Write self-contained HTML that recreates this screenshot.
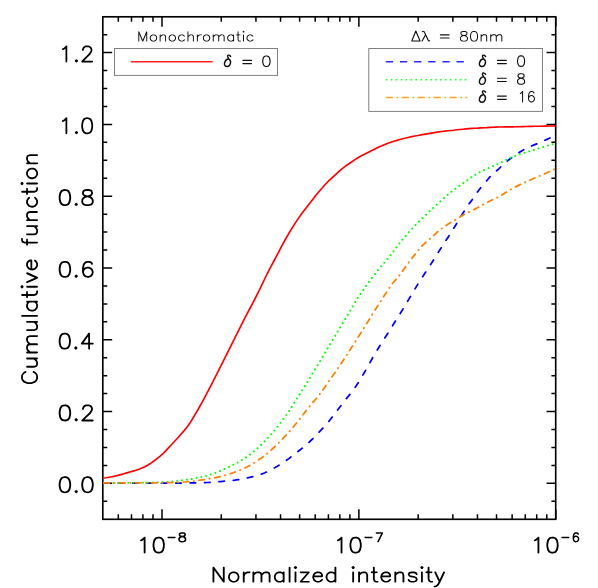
<!DOCTYPE html>
<html><head><meta charset="utf-8"><title>Cumulative function</title>
<style>html,body{margin:0;padding:0;background:#fff;font-family:"Liberation Sans",sans-serif;}svg{display:block}</style>
</head><body>
<svg width="598" height="588" viewBox="0 0 598 588">
<rect x="0" y="0" width="598" height="588" fill="#fff"/>
<path d="M162.00 519.20V509.20M162.00 16.75V26.75M358.90 519.20V509.20M358.90 16.75V26.75M555.80 519.20V509.20M555.80 16.75V26.75M118.32 519.20V514.20M118.32 16.75V21.75M131.50 519.20V514.20M131.50 16.75V21.75M142.92 519.20V514.20M142.92 16.75V21.75M152.99 519.20V514.20M152.99 16.75V21.75M221.27 519.20V514.20M221.27 16.75V21.75M255.95 519.20V514.20M255.95 16.75V21.75M280.55 519.20V514.20M280.55 16.75V21.75M299.63 519.20V514.20M299.63 16.75V21.75M315.22 519.20V514.20M315.22 16.75V21.75M328.40 519.20V514.20M328.40 16.75V21.75M339.82 519.20V514.20M339.82 16.75V21.75M349.89 519.20V514.20M349.89 16.75V21.75M418.17 519.20V514.20M418.17 16.75V21.75M452.85 519.20V514.20M452.85 16.75V21.75M477.45 519.20V514.20M477.45 16.75V21.75M496.53 519.20V514.20M496.53 16.75V21.75M512.12 519.20V514.20M512.12 16.75V21.75M525.30 519.20V514.20M525.30 16.75V21.75M536.72 519.20V514.20M536.72 16.75V21.75M546.79 519.20V514.20M546.79 16.75V21.75M102.85 501.30H107.25M555.80 501.30H551.40M102.85 483.35H112.15M555.80 483.35H546.50M102.85 465.40H107.25M555.80 465.40H551.40M102.85 447.46H107.25M555.80 447.46H551.40M102.85 429.51H107.25M555.80 429.51H551.40M102.85 411.56H112.15M555.80 411.56H546.50M102.85 393.61H107.25M555.80 393.61H551.40M102.85 375.67H107.25M555.80 375.67H551.40M102.85 357.72H107.25M555.80 357.72H551.40M102.85 339.77H112.15M555.80 339.77H546.50M102.85 321.82H107.25M555.80 321.82H551.40M102.85 303.88H107.25M555.80 303.88H551.40M102.85 285.93H107.25M555.80 285.93H551.40M102.85 267.98H112.15M555.80 267.98H546.50M102.85 250.03H107.25M555.80 250.03H551.40M102.85 232.09H107.25M555.80 232.09H551.40M102.85 214.14H107.25M555.80 214.14H551.40M102.85 196.19H112.15M555.80 196.19H546.50M102.85 178.24H107.25M555.80 178.24H551.40M102.85 160.30H107.25M555.80 160.30H551.40M102.85 142.35H107.25M555.80 142.35H551.40M102.85 124.40H112.15M555.80 124.40H546.50M102.85 106.45H107.25M555.80 106.45H551.40M102.85 88.50H107.25M555.80 88.50H551.40M102.85 70.56H107.25M555.80 70.56H551.40M102.85 52.61H112.15M555.80 52.61H546.50M102.85 34.66H107.25M555.80 34.66H551.40" stroke="#000" stroke-width="1.5" fill="none"/>
<rect x="102.8" y="16.8" width="452.9" height="502.5" fill="none" stroke="#000" stroke-width="1.65"/>
<g fill="none" stroke-linejoin="round">
<path d="M102.9 478.2L105.9 477.8L108.9 477.3L111.9 476.7L114.9 476.1L117.9 475.4L120.9 474.6L123.9 473.8L126.9 472.9L129.9 472.0L132.9 471.1L135.9 470.2L138.9 469.2L141.9 468.1L144.9 466.7L147.9 465.0L150.9 463.2L153.9 461.0L156.9 458.7L159.9 456.3L162.9 453.7L165.9 450.6L168.9 447.4L171.9 444.3L174.9 441.0L177.9 437.7L180.9 434.3L183.9 430.9L186.9 427.3L189.9 423.1L192.9 418.2L195.9 413.1L198.9 408.0L201.9 402.6L204.9 397.1L207.9 391.3L210.9 385.6L213.9 379.7L216.9 373.8L219.9 367.9L222.9 361.9L225.9 355.9L228.9 349.9L231.9 343.9L234.9 337.9L237.9 331.8L240.9 325.8L243.9 319.9L246.9 314.1L249.9 308.5L252.9 302.8L255.9 297.0L258.9 291.0L261.9 284.8L264.9 278.5L267.9 272.4L270.9 266.7L273.9 261.0L276.9 255.3L279.9 249.6L282.9 243.9L285.9 238.5L288.9 233.3L291.9 228.4L294.9 223.6L297.9 219.1L300.9 214.8L303.9 210.8L306.9 206.9L309.9 203.1L312.9 199.2L315.9 195.3L318.9 191.7L321.9 188.2L324.9 184.8L327.9 181.7L330.9 178.9L333.9 176.1L336.9 173.4L339.9 170.7L342.9 168.1L345.9 165.8L348.9 163.7L351.9 161.7L354.9 159.6L357.9 157.7L360.9 156.1L363.9 154.5L366.9 153.0L369.9 151.4L372.9 149.9L375.9 148.4L378.9 147.0L381.9 145.7L384.9 144.4L387.9 143.3L390.9 142.3L393.9 141.3L396.9 140.4L399.9 139.5L402.9 138.7L405.9 138.0L408.9 137.3L411.9 136.6L414.9 136.0L417.9 135.5L420.9 134.9L423.9 134.4L426.9 133.9L429.9 133.4L432.9 132.9L435.9 132.4L438.9 131.9L441.9 131.5L444.9 131.1L447.9 130.8L450.9 130.5L453.9 130.2L456.9 129.8L459.9 129.5L462.9 129.2L465.9 128.9L468.9 128.6L471.9 128.4L474.9 128.2L477.9 128.1L480.9 127.9L483.9 127.7L486.9 127.6L489.9 127.4L492.9 127.3L495.9 127.1L498.9 127.0L501.9 127.0L504.9 126.9L507.9 126.9L510.9 126.8L513.9 126.8L516.9 126.7L519.9 126.7L522.9 126.6L525.9 126.5L528.9 126.4L531.9 126.4L534.9 126.3L537.9 126.2L540.9 126.2L543.9 126.1L546.9 126.1L549.9 126.0L552.9 126.0L555.8 125.9" stroke="#ff0000" stroke-width="1.65"/>
<path d="M102.9 483.0L105.9 483.0L108.9 483.0L111.9 483.0L114.9 483.0L117.9 483.0L120.9 483.1L123.9 483.1L126.9 483.1L129.9 483.1L132.9 483.1L135.9 483.1L138.9 483.1L141.9 483.1L144.9 483.1L147.9 483.1L150.9 483.1L153.9 483.1L156.9 483.1L159.9 483.1L162.9 483.1L165.9 483.1L168.9 483.1L171.9 483.1L174.9 483.1L177.9 483.1L180.9 483.1L183.9 483.1L186.9 483.0L189.9 483.0L192.9 482.9L195.9 482.9L198.9 482.8L201.9 482.8L204.9 482.7L207.9 482.5L210.9 482.3L213.9 482.1L216.9 481.8L219.9 481.6L222.9 481.3L225.9 481.1L228.9 480.8L231.9 480.5L234.9 480.2L237.9 479.7L240.9 479.2L243.9 478.7L246.9 478.1L249.9 477.4L252.9 476.7L255.9 475.9L258.9 475.0L261.9 474.0L264.9 472.8L267.9 471.3L270.9 469.8L273.9 468.1L276.9 466.4L279.9 464.6L282.9 462.7L285.9 460.7L288.9 458.6L291.9 456.3L294.9 454.0L297.9 451.6L300.9 449.3L303.9 446.9L306.9 444.3L309.9 441.5L312.9 438.6L315.9 435.5L318.9 432.4L321.9 429.2L324.9 426.0L327.9 422.5L330.9 418.8L333.9 414.9L336.9 410.9L339.9 407.0L342.9 403.1L345.9 399.2L348.9 395.6L351.9 392.0L354.9 387.9L357.9 383.3L360.9 378.4L363.9 373.3L366.9 368.0L369.9 362.7L372.9 357.4L375.9 352.3L378.9 347.2L381.9 342.4L384.9 337.8L387.9 333.3L390.9 328.5L393.9 323.5L396.9 318.7L399.9 314.0L402.9 309.1L405.9 304.1L408.9 299.1L411.9 294.0L414.9 289.0L417.9 284.1L420.9 279.3L423.9 274.8L426.9 270.3L429.9 265.8L432.9 261.0L435.9 256.1L438.9 251.4L441.9 246.8L444.9 242.1L447.9 237.5L450.9 232.8L453.9 228.0L456.9 223.2L459.9 218.3L462.9 213.3L465.9 208.4L468.9 204.1L471.9 200.1L474.9 195.9L477.9 191.4L480.9 187.4L483.9 184.1L486.9 180.5L489.9 176.9L492.9 173.9L495.9 171.3L498.9 168.8L501.9 165.7L504.9 163.0L507.9 160.5L510.9 158.3L513.9 156.2L516.9 154.1L519.9 152.0L522.9 150.2L525.9 148.5L528.9 147.1L531.9 145.8L534.9 144.6L537.9 143.4L540.9 142.0L543.9 140.7L546.9 139.4L549.9 138.0L552.9 136.6L555.8 135.3" stroke="#0000ff" stroke-width="1.75" stroke-linecap="round" stroke-dasharray="5.5 8.9" stroke-dashoffset="-0.87"/>
<path d="M102.9 482.9L105.9 482.9L108.9 482.9L111.9 482.9L114.9 482.9L117.9 482.9L120.9 482.9L123.9 482.8L126.9 482.8L129.9 482.8L132.9 482.8L135.9 482.7L138.9 482.7L141.9 482.7L144.9 482.7L147.9 482.6L150.9 482.6L153.9 482.5L156.9 482.4L159.9 482.3L162.9 482.2L165.9 482.0L168.9 481.9L171.9 481.6L174.9 481.3L177.9 480.9L180.9 480.5L183.9 480.1L186.9 479.7L189.9 479.3L192.9 478.8L195.9 478.2L198.9 477.6L201.9 477.0L204.9 476.3L207.9 475.5L210.9 474.5L213.9 473.5L216.9 472.4L219.9 471.1L222.9 469.7L225.9 468.3L228.9 466.9L231.9 465.5L234.9 464.0L237.9 462.4L240.9 460.6L243.9 458.7L246.9 456.7L249.9 454.5L252.9 452.2L255.9 449.6L258.9 446.9L261.9 444.0L264.9 440.9L267.9 437.9L270.9 434.7L273.9 431.3L276.9 427.4L279.9 423.5L282.9 419.7L285.9 415.7L288.9 411.3L291.9 406.6L294.9 401.7L297.9 396.9L300.9 392.3L303.9 387.7L306.9 383.0L309.9 377.9L312.9 372.8L315.9 367.9L318.9 363.1L321.9 358.2L324.9 353.1L327.9 347.9L330.9 342.8L333.9 337.8L336.9 332.8L339.9 327.8L342.9 322.8L345.9 317.8L348.9 312.8L351.9 307.8L354.9 302.2L357.9 297.3L360.9 293.3L363.9 289.1L366.9 284.7L369.9 280.6L372.9 276.6L375.9 272.8L378.9 269.1L381.9 265.5L384.9 262.0L387.9 258.4L390.9 254.7L393.9 250.8L396.9 246.7L399.9 242.8L402.9 239.1L405.9 235.6L408.9 232.2L411.9 228.9L414.9 225.7L417.9 222.6L420.9 219.6L423.9 216.6L426.9 213.8L429.9 210.9L432.9 208.2L435.9 205.4L438.9 202.7L441.9 200.0L444.9 197.3L447.9 194.7L450.9 192.2L453.9 189.8L456.9 187.5L459.9 185.5L462.9 183.5L465.9 181.3L468.9 179.0L471.9 176.9L474.9 175.0L477.9 173.2L480.9 171.6L483.9 170.2L486.9 168.9L489.9 167.5L492.9 166.2L495.9 164.9L498.9 163.6L501.9 162.1L504.9 160.6L507.9 159.1L510.9 157.6L513.9 156.3L516.9 155.2L519.9 154.2L522.9 153.3L525.9 152.4L528.9 151.5L531.9 150.5L534.9 149.6L537.9 148.6L540.9 147.7L543.9 146.8L546.9 145.9L549.9 145.0L552.9 144.1L555.8 143.3" stroke="#00ff00" stroke-width="2.0" stroke-linecap="round" stroke-dasharray="0.01 4.89" stroke-dashoffset="-0.9"/>
<path d="M102.9 482.9L105.9 482.9L108.9 482.9L111.9 482.9L114.9 482.9L117.9 482.9L120.9 482.9L123.9 482.9L126.9 482.9L129.9 482.9L132.9 482.9L135.9 482.8L138.9 482.8L141.9 482.8L144.9 482.8L147.9 482.8L150.9 482.8L153.9 482.8L156.9 482.8L159.9 482.8L162.9 482.8L165.9 482.7L168.9 482.7L171.9 482.7L174.9 482.6L177.9 482.4L180.9 482.2L183.9 482.0L186.9 481.8L189.9 481.5L192.9 481.2L195.9 480.8L198.9 480.3L201.9 479.9L204.9 479.5L207.9 479.0L210.9 478.5L213.9 478.0L216.9 477.3L219.9 476.6L222.9 475.9L225.9 475.0L228.9 474.2L231.9 473.2L234.9 472.1L237.9 471.0L240.9 469.8L243.9 468.4L246.9 467.0L249.9 465.4L252.9 463.7L255.9 461.8L258.9 459.6L261.9 457.7L264.9 455.6L267.9 453.0L270.9 450.3L273.9 447.5L276.9 444.7L279.9 441.7L282.9 438.5L285.9 435.3L288.9 432.0L291.9 428.6L294.9 425.0L297.9 421.3L300.9 417.4L303.9 413.6L306.9 409.8L309.9 406.1L312.9 402.5L315.9 399.0L318.9 395.4L321.9 391.4L324.9 387.0L327.9 382.6L330.9 378.3L333.9 374.1L336.9 369.9L339.9 365.5L342.9 361.0L345.9 356.4L348.9 351.7L351.9 347.0L354.9 342.3L357.9 337.6L360.9 332.8L363.9 328.0L366.9 323.2L369.9 318.3L372.9 313.5L375.9 308.7L378.9 304.0L381.9 299.3L384.9 294.7L387.9 290.2L390.9 285.8L393.9 281.8L396.9 278.3L399.9 274.8L402.9 270.5L405.9 266.2L408.9 262.2L411.9 258.3L414.9 254.6L417.9 250.8L420.9 247.2L423.9 244.1L426.9 241.4L429.9 238.8L432.9 236.1L435.9 233.3L438.9 230.7L441.9 228.4L444.9 226.3L447.9 224.3L450.9 222.4L453.9 220.6L456.9 218.9L459.9 217.0L462.9 215.2L465.9 213.5L468.9 212.0L471.9 210.6L474.9 209.1L477.9 207.5L480.9 205.9L483.9 204.2L486.9 202.6L489.9 201.0L492.9 199.5L495.9 198.2L498.9 196.8L501.9 195.1L504.9 193.1L507.9 191.3L510.9 189.5L513.9 187.8L516.9 186.1L519.9 184.6L522.9 183.2L525.9 181.9L528.9 180.6L531.9 179.3L534.9 178.0L537.9 176.7L540.9 175.4L543.9 174.1L546.9 172.8L549.9 171.4L552.9 170.0L555.8 168.5" stroke="#ff8000" stroke-width="1.75" stroke-linecap="round" stroke-dasharray="5.5 4.95 0.5 4.95" stroke-dashoffset="-0.87"/>
</g>
<rect x="114.5" y="48.5" width="163" height="26.9" fill="none" stroke="#808080" stroke-width="1"/>
<rect x="368.8" y="48.5" width="173.65" height="62.9" fill="none" stroke="#808080" stroke-width="1"/>
<path d="M130.8 61.7H212.6" stroke="#ff2020" stroke-width="1.5" fill="none"/>
<path d="M385.8 61.8H464.2" stroke="#2a2aff" stroke-width="1.6" fill="none" stroke-dasharray="7.3 6.85"/>
<path d="M385.8 79.8H467.2" stroke="#22ff22" stroke-width="1.6" fill="none" stroke-dasharray="1.6 3.33"/>
<path d="M385.8 97.6H467.2" stroke="#ffa51e" stroke-width="1.5" fill="none" stroke-dasharray="7.3 3.5 1.6 3.5"/>
<path d="M76.20 489.95L75.64 490.13L74.70 491.04L74.51 491.58L74.70 492.12L75.64 493.02L76.20 493.20L76.77 493.02L77.71 492.12L77.90 491.58L77.71 491.04L76.77 490.13ZM86.74 476.25L83.92 477.15L83.54 477.51L82.23 479.41L81.94 480.22L81.28 483.37L81.38 483.55L81.28 483.64L81.28 485.81L81.38 485.90L81.28 486.08L82.04 489.59L82.23 490.04L83.54 491.94L84.30 492.48L86.27 493.11L88.25 493.20L91.07 492.30L91.45 491.94L92.76 490.04L93.05 489.23L93.71 486.08L93.61 485.90L93.71 485.81L93.71 483.64L93.61 483.55L93.71 483.37L92.95 479.86L92.76 479.41L91.45 477.51L90.69 476.97L88.72 476.34ZM86.74 478.05L88.25 478.05L89.94 478.68L91.17 480.49L91.82 483.55L91.82 485.90L91.17 488.96L89.85 490.86L88.25 491.40L86.74 491.40L85.05 490.77L83.83 488.96L83.17 485.90L83.17 483.55L83.83 480.49L85.14 478.59ZM64.16 476.25L61.33 477.15L60.96 477.51L59.64 479.41L59.36 480.22L58.70 483.37L58.79 483.55L58.70 483.64L58.70 485.81L58.79 485.90L58.70 486.08L59.45 489.59L59.64 490.04L60.96 491.94L61.71 492.48L63.69 493.11L65.66 493.20L68.49 492.30L68.86 491.94L70.18 490.04L70.46 489.23L71.12 486.08L71.03 485.90L71.12 485.81L71.12 483.64L71.03 483.55L71.12 483.37L70.37 479.86L70.18 479.41L68.86 477.51L68.11 476.97L66.13 476.34ZM64.16 478.05L65.66 478.05L67.36 478.68L68.58 480.49L69.24 483.55L69.24 485.90L68.58 488.96L67.26 490.86L65.66 491.40L64.16 491.40L62.46 490.77L61.24 488.96L60.58 485.90L60.58 483.55L61.24 480.49L62.56 478.59ZM76.20 418.16L75.64 418.34L74.70 419.25L74.51 419.79L74.70 420.33L75.64 421.23L76.20 421.41L76.77 421.23L77.71 420.33L77.90 419.79L77.71 419.25L76.77 418.34ZM85.61 404.55L83.92 405.36L82.98 406.26L82.04 408.25L82.04 408.97L82.41 409.69L82.98 409.87L83.54 409.69L83.83 409.33L83.92 408.34L84.39 407.44L85.14 406.71L86.08 406.26L88.91 406.26L89.85 406.71L90.60 407.44L91.07 408.34L91.07 409.60L90.60 410.50L89.00 412.75L81.47 419.97L81.28 420.51L81.38 420.87L81.66 421.23L82.23 421.41L92.76 421.41L93.14 421.32L93.52 421.05L93.71 420.51L93.52 419.97L92.76 419.61L84.67 419.61L84.58 419.52L90.69 413.66L92.01 411.76L92.95 409.69L92.86 407.89L92.01 406.26L91.07 405.36L89.00 404.46ZM64.16 404.46L61.33 405.36L60.96 405.72L59.64 407.62L59.36 408.43L58.70 411.58L58.79 411.76L58.70 411.85L58.70 414.02L58.79 414.11L58.70 414.29L59.45 417.80L59.64 418.25L60.96 420.15L61.71 420.69L63.69 421.32L65.66 421.41L68.49 420.51L68.86 420.15L70.18 418.25L70.46 417.44L71.12 414.29L71.03 414.11L71.12 414.02L71.12 411.85L71.03 411.76L71.12 411.58L70.37 408.07L70.18 407.62L68.86 405.72L68.11 405.18L66.13 404.55ZM64.16 406.26L65.66 406.26L67.36 406.89L68.58 408.70L69.24 411.76L69.24 414.11L68.58 417.17L67.26 419.07L65.66 419.61L64.16 419.61L62.46 418.98L61.24 417.17L60.58 414.11L60.58 411.76L61.24 408.70L62.56 406.80ZM75.84 346.37L75.28 346.55L74.36 347.46L74.18 348.00L74.36 348.54L75.28 349.44L75.84 349.62L76.39 349.44L77.31 348.54L77.49 348.00L77.31 347.46L76.39 346.55ZM89.10 332.67L88.55 332.85L88.18 333.21L81.27 342.68L80.81 343.67L80.99 344.21L81.73 344.57L88.09 344.57L88.18 344.66L88.18 348.72L88.36 349.26L89.10 349.62L89.65 349.44L90.02 348.72L90.02 344.66L90.11 344.57L93.16 344.48L93.52 344.21L93.71 343.67L93.52 343.13L93.16 342.86L90.11 342.77L90.02 342.68L90.02 333.57L89.84 333.03ZM88.09 336.55L88.18 336.64L88.18 342.68L88.09 342.77L83.67 342.77L83.57 342.68ZM64.04 332.67L61.28 333.57L60.91 333.93L59.62 335.83L59.34 336.64L58.70 339.79L58.79 339.97L58.70 340.06L58.70 342.23L58.79 342.32L58.70 342.50L59.44 346.01L59.62 346.46L60.91 348.36L61.65 348.90L63.58 349.53L65.52 349.62L68.28 348.72L68.65 348.36L69.94 346.46L70.22 345.65L70.86 342.50L70.77 342.32L70.86 342.23L70.86 340.06L70.77 339.97L70.86 339.79L70.12 336.28L69.94 335.83L68.65 333.93L67.91 333.39L65.98 332.76ZM64.04 334.47L65.52 334.47L67.18 335.10L68.37 336.91L69.02 339.97L69.02 342.32L68.37 345.38L67.08 347.28L65.52 347.82L64.04 347.82L62.39 347.19L61.19 345.38L60.54 342.32L60.54 339.97L61.19 336.91L62.48 335.01ZM76.20 274.58L75.64 274.76L74.70 275.67L74.51 276.21L74.70 276.75L75.64 277.65L76.20 277.83L76.77 277.65L77.71 276.75L77.90 276.21L77.71 275.67L76.77 274.76ZM89.00 260.88L87.02 260.97L85.05 261.60L84.30 262.14L82.98 264.04L82.79 264.49L82.04 268.00L82.13 268.18L82.04 268.27L82.04 271.88L82.13 271.97L82.04 272.06L82.98 275.31L84.67 276.93L87.50 277.83L88.72 277.74L91.07 276.93L92.76 275.31L93.71 272.60L93.61 271.43L92.76 269.17L91.07 267.55L88.72 266.74L87.50 266.65L84.67 267.55L84.11 268.09L84.01 268.00L84.58 265.12L85.80 263.31L86.08 263.13L87.50 262.68L89.00 262.68L90.60 263.22L91.45 264.67L92.01 264.85L92.76 264.49L92.95 263.95L92.86 263.58L92.01 261.96L91.45 261.60ZM87.50 268.45L88.25 268.45L89.94 268.99L91.26 270.26L91.82 271.88L91.82 272.60L91.26 274.22L89.94 275.49L88.25 276.03L87.50 276.03L85.80 275.49L84.58 274.31L83.92 271.97L84.48 270.26L85.80 268.99ZM64.16 260.88L61.33 261.78L60.96 262.14L59.64 264.04L59.36 264.85L58.70 268.00L58.79 268.18L58.70 268.27L58.70 270.44L58.79 270.53L58.70 270.71L59.45 274.22L59.64 274.67L60.96 276.57L61.71 277.11L63.69 277.74L65.66 277.83L68.49 276.93L68.86 276.57L70.18 274.67L70.46 273.86L71.12 270.71L71.03 270.53L71.12 270.44L71.12 268.27L71.03 268.18L71.12 268.00L70.37 264.49L70.18 264.04L68.86 262.14L68.11 261.60L66.13 260.97ZM64.16 262.68L65.66 262.68L67.36 263.31L68.58 265.12L69.24 268.18L69.24 270.53L68.58 273.59L67.26 275.49L65.66 276.03L64.16 276.03L62.46 275.40L61.24 273.59L60.58 270.53L60.58 268.18L61.24 265.12L62.56 263.22ZM76.20 202.79L75.64 202.97L74.70 203.88L74.51 204.42L74.70 204.96L75.64 205.86L76.20 206.04L76.77 205.86L77.71 204.96L77.90 204.42L77.71 203.88L76.77 202.97ZM85.99 189.09L83.17 189.99L82.13 191.79L82.04 192.16L82.13 193.96L82.98 195.58L84.30 196.30L83.92 196.48L82.23 198.11L81.38 199.73L81.28 202.25L82.23 204.24L83.17 205.14L85.99 206.04L89.00 206.04L91.82 205.14L92.76 204.24L93.61 202.61L93.71 202.25L93.61 199.73L92.76 198.11L91.07 196.48L90.69 196.30L92.01 195.58L92.86 193.96L92.95 192.16L92.01 190.17L91.45 189.81L89.00 189.09ZM83.64 199.28L85.05 197.93L87.40 197.20L89.94 197.93L91.35 199.28L91.82 200.18L91.82 202.16L91.35 203.06L90.69 203.70L89.00 204.24L85.99 204.24L84.30 203.70L83.64 203.06L83.17 202.16L83.17 200.18ZM83.92 192.25L84.39 191.43L85.99 190.89L89.00 190.89L90.69 191.52L91.07 192.25L91.07 193.51L90.69 194.23L90.41 194.50L89.47 194.95L87.40 195.40L85.52 194.95L84.58 194.50L84.30 194.23L83.92 193.51ZM64.16 189.09L61.33 189.99L60.96 190.35L59.64 192.25L59.36 193.06L58.70 196.21L58.79 196.39L58.70 196.48L58.70 198.65L58.79 198.74L58.70 198.92L59.45 202.43L59.64 202.88L60.96 204.78L61.71 205.32L63.69 205.95L65.66 206.04L68.49 205.14L68.86 204.78L70.18 202.88L70.46 202.07L71.12 198.92L71.03 198.74L71.12 198.65L71.12 196.48L71.03 196.39L71.12 196.21L70.37 192.70L70.18 192.25L68.86 190.35L68.11 189.81L66.13 189.18ZM64.16 190.89L65.66 190.89L67.36 191.52L68.58 193.33L69.24 196.39L69.24 198.74L68.58 201.80L67.26 203.70L65.66 204.24L64.16 204.24L62.46 203.61L61.24 201.80L60.58 198.74L60.58 196.39L61.24 193.33L62.56 191.43ZM76.43 131.00L75.89 131.18L74.99 132.09L74.81 132.63L74.99 133.17L75.89 134.07L76.43 134.25L76.97 134.07L77.86 133.17L78.04 132.63L77.86 132.09L76.97 131.18ZM86.47 117.30L83.78 118.20L83.42 118.56L82.17 120.46L81.90 121.27L81.27 124.42L81.36 124.60L81.27 124.69L81.27 126.86L81.36 126.95L81.27 127.13L81.99 130.64L82.17 131.09L83.42 132.99L84.14 133.53L86.03 134.16L87.91 134.25L90.60 133.35L90.96 132.99L92.21 131.09L92.48 130.28L93.11 127.13L93.02 126.95L93.11 126.86L93.11 124.69L93.02 124.60L93.11 124.42L92.39 120.91L92.21 120.46L90.96 118.56L90.24 118.02L88.36 117.39ZM86.47 119.10L87.91 119.10L89.52 119.73L90.69 121.54L91.32 124.60L91.32 126.95L90.69 130.01L89.43 131.91L87.91 132.45L86.47 132.45L84.86 131.82L83.69 130.01L83.07 126.95L83.07 124.60L83.69 121.54L84.95 119.64ZM66.38 117.30L65.85 117.48L63.60 119.73L62.26 120.37L61.90 121.09L62.08 121.63L62.80 121.99L64.77 121.09L65.40 120.46L65.49 120.55L65.49 133.35L65.67 133.89L66.38 134.25L66.92 134.07L67.28 133.35L67.28 118.20L67.10 117.66ZM76.43 59.21L75.89 59.39L74.99 60.30L74.81 60.84L74.99 61.38L75.89 62.28L76.43 62.46L76.97 62.28L77.86 61.38L78.04 60.84L77.86 60.30L76.97 59.39ZM85.40 45.60L83.78 46.41L82.89 47.31L81.99 49.30L81.99 50.02L82.35 50.74L82.89 50.92L83.42 50.74L83.69 50.38L83.78 49.39L84.23 48.49L84.95 47.76L85.85 47.31L88.54 47.31L89.43 47.76L90.15 48.49L90.60 49.39L90.60 50.65L90.15 51.55L88.63 53.80L81.45 61.02L81.27 61.56L81.36 61.92L81.63 62.28L82.17 62.46L92.21 62.46L92.57 62.37L92.93 62.10L93.11 61.56L92.93 61.02L92.21 60.66L84.50 60.66L84.41 60.57L90.24 54.71L91.50 52.81L92.39 50.74L92.30 48.94L91.50 47.31L90.60 46.41L88.63 45.51ZM66.38 45.51L65.85 45.69L63.60 47.94L62.26 48.58L61.90 49.30L62.08 49.84L62.80 50.20L64.77 49.30L65.40 48.67L65.49 48.76L65.49 61.56L65.67 62.10L66.38 62.46L66.92 62.28L67.28 61.56L67.28 46.41L67.10 45.87ZM157.96 536.70L155.18 537.60L154.81 537.95L153.51 539.84L153.24 540.64L152.59 543.78L152.68 543.96L152.59 544.05L152.59 546.20L152.68 546.29L152.59 546.47L153.33 549.96L153.51 550.41L154.81 552.30L155.55 552.83L157.49 553.46L159.44 553.55L162.22 552.65L162.59 552.30L163.88 550.41L164.16 549.61L164.81 546.47L164.71 546.29L164.81 546.20L164.81 544.05L164.71 543.96L164.81 543.78L164.07 540.29L163.88 539.84L162.59 537.95L161.85 537.42L159.90 536.79ZM157.96 538.49L159.44 538.49L161.10 539.12L162.31 540.91L162.96 543.96L162.96 546.29L162.31 549.34L161.01 551.22L159.44 551.76L157.96 551.76L156.29 551.13L155.09 549.34L154.44 546.29L154.44 543.96L155.09 540.91L156.38 539.03ZM144.63 536.70L144.07 536.88L141.76 539.12L140.37 539.75L140.00 540.46L140.19 541.00L140.93 541.36L142.96 540.46L143.61 539.84L143.70 539.93L143.70 552.65L143.89 553.19L144.63 553.55L145.18 553.37L145.55 552.65L145.55 537.60L145.37 537.06ZM167.50 537.45L167.59 537.83L167.83 538.10L168.16 538.21L174.99 538.21L175.32 538.10L175.56 537.83L175.65 537.45L175.56 537.07L175.32 536.80L174.99 536.69L168.16 536.69L167.83 536.80L167.59 537.07ZM180.99 532.25L179.54 532.72L179.19 533.03L178.72 533.87L178.67 534.18L178.72 535.32L179.19 536.16L179.77 536.62L178.72 537.61L178.26 538.44L178.20 538.76L178.26 540.32L178.90 541.36L179.36 541.78L179.77 541.98L181.34 542.40L183.55 542.35L184.77 541.98L185.18 541.78L185.82 541.15L186.28 540.32L186.34 540.01L186.28 538.44L185.82 537.61L184.77 536.62L185.35 536.16L185.82 535.32L185.88 535.01L185.82 533.87L185.35 533.03L185.00 532.72L184.77 532.62L183.20 532.20ZM180.12 538.39L180.88 537.72L182.27 537.30L183.55 537.66L184.42 538.39L184.71 538.91L184.71 539.85L184.42 540.37L184.13 540.63L183.14 540.94L181.40 540.94L180.53 540.68L180.12 540.37L179.83 539.85L179.83 538.91ZM180.29 534.33L180.58 533.92L181.40 533.66L183.14 533.66L183.84 533.87L184.07 534.02L184.25 534.33L184.25 534.85L183.96 535.32L183.38 535.58L182.27 535.84L181.17 535.58L180.58 535.32L180.29 534.85ZM354.86 536.70L352.08 537.60L351.71 537.95L350.41 539.84L350.14 540.64L349.49 543.78L349.58 543.96L349.49 544.05L349.49 546.20L349.58 546.29L349.49 546.47L350.23 549.96L350.41 550.41L351.71 552.30L352.45 552.83L354.39 553.46L356.34 553.55L359.12 552.65L359.49 552.30L360.78 550.41L361.06 549.61L361.71 546.47L361.61 546.29L361.71 546.20L361.71 544.05L361.61 543.96L361.71 543.78L360.97 540.29L360.78 539.84L359.49 537.95L358.75 537.42L356.80 536.79ZM354.86 538.49L356.34 538.49L358.00 539.12L359.21 540.91L359.86 543.96L359.86 546.29L359.21 549.34L357.91 551.22L356.34 551.76L354.86 551.76L353.19 551.13L351.99 549.34L351.34 546.29L351.34 543.96L351.99 540.91L353.28 539.03ZM341.53 536.70L340.97 536.88L338.66 539.12L337.27 539.75L336.90 540.46L337.09 541.00L337.83 541.36L339.86 540.46L340.51 539.84L340.60 539.93L340.60 552.65L340.79 553.19L341.53 553.55L342.08 553.37L342.45 552.65L342.45 537.60L342.27 537.06ZM364.40 537.45L364.49 537.83L364.73 538.10L365.06 538.21L371.89 538.21L372.22 538.10L372.46 537.83L372.55 537.45L372.46 537.07L372.22 536.80L371.89 536.69L365.06 536.69L364.73 536.80L364.49 537.07ZM382.66 532.25L382.39 532.20L376.35 532.20L375.98 532.30L375.65 532.67L375.60 532.93L375.71 533.29L375.98 533.55L376.35 533.66L381.10 533.66L381.15 533.71L377.38 541.36L377.32 541.67L377.38 541.93L377.81 542.35L378.08 542.40L378.35 542.35L378.78 541.98L383.09 533.24L383.15 532.93L383.09 532.67ZM551.76 536.70L548.98 537.60L548.61 537.95L547.31 539.84L547.04 540.64L546.39 543.78L546.48 543.96L546.39 544.05L546.39 546.20L546.48 546.29L546.39 546.47L547.13 549.96L547.31 550.41L548.61 552.30L549.35 552.83L551.29 553.46L553.24 553.55L556.02 552.65L556.39 552.30L557.68 550.41L557.96 549.61L558.61 546.47L558.51 546.29L558.61 546.20L558.61 544.05L558.51 543.96L558.61 543.78L557.87 540.29L557.68 539.84L556.39 537.95L555.65 537.42L553.70 536.79ZM551.76 538.49L553.24 538.49L554.90 539.12L556.11 540.91L556.76 543.96L556.76 546.29L556.11 549.34L554.81 551.22L553.24 551.76L551.76 551.76L550.09 551.13L548.89 549.34L548.24 546.29L548.24 543.96L548.89 540.91L550.18 539.03ZM538.43 536.70L537.87 536.88L535.56 539.12L534.17 539.75L533.80 540.46L533.99 541.00L534.73 541.36L536.76 540.46L537.41 539.84L537.50 539.93L537.50 552.65L537.69 553.19L538.43 553.55L538.98 553.37L539.35 552.65L539.35 537.60L539.17 537.06ZM561.30 537.45L561.39 537.83L561.63 538.10L561.96 538.21L568.79 538.21L569.12 538.10L569.36 537.83L569.45 537.45L569.36 537.07L569.12 536.80L568.79 536.69L561.96 536.69L561.63 536.80L561.39 537.07ZM576.59 532.20L575.46 532.25L574.39 532.62L573.93 532.93L573.11 534.18L573.01 534.44L572.60 536.47L572.65 536.57L572.60 536.68L572.60 538.76L572.65 538.86L572.60 538.91L573.11 540.79L574.18 541.88L575.77 542.40L576.49 542.35L577.56 541.98L577.92 541.78L578.84 540.79L579.35 539.17L579.30 538.44L578.84 537.14L577.76 536.05L576.18 535.53L575.46 535.58L574.24 536.05L574.18 536.00L574.39 534.91L575.05 533.92L575.82 533.66L576.54 533.66L577.25 533.92L577.56 534.49L577.97 534.85L578.22 534.91L578.48 534.85L578.84 534.54L578.94 534.18L578.89 533.87L578.48 533.03L578.17 532.72L577.97 532.62ZM575.82 536.99L576.13 536.99L577.00 537.30L577.61 537.92L577.92 538.81L577.92 539.12L577.61 540.01L577.00 540.63L576.13 540.94L575.82 540.94L574.95 540.63L574.34 540.01L574.08 538.97L574.08 538.65L574.34 537.92L574.95 537.30ZM444.64 571.61L444.08 571.44L443.71 571.52L443.16 572.03L439.65 579.56L436.14 572.03L435.77 571.61L435.21 571.44L434.47 571.77L434.29 572.28L434.38 572.70L438.45 581.25L438.63 581.84L437.52 583.87L436.04 585.22L435.12 585.64L434.10 585.73L433.73 585.98L433.55 586.49L433.92 587.17L434.47 587.34L435.58 587.25L437.25 586.49L438.91 584.97L440.57 582.01L444.92 572.70L445.01 572.28ZM421.90 571.44L421.35 571.61L420.98 572.28L420.98 581.75L421.17 582.26L421.90 582.60L422.46 582.43L422.83 581.75L422.83 572.28L422.64 571.77ZM409.15 572.11L408.60 572.45L407.67 574.31L408.60 576.17L410.63 577.19L414.14 577.78L415.16 578.20L415.44 578.46L415.81 579.13L415.81 579.64L415.34 580.40L413.77 580.91L411.55 580.91L409.98 580.40L409.15 579.05L408.60 578.88L408.23 578.96L407.86 579.22L407.67 579.72L408.60 581.59L409.15 581.92L411.55 582.60L413.77 582.60L416.54 581.75L417.65 579.72L417.56 578.71L416.73 577.19L414.70 576.17L410.91 575.50L410.17 575.16L409.89 574.90L409.61 574.23L409.98 573.64L411.55 573.13L413.77 573.13L415.34 573.64L416.18 574.99L416.73 575.16L417.10 575.07L417.47 574.82L417.65 574.31L416.73 572.45L416.18 572.11L413.77 571.44L411.55 571.44ZM394.74 571.61L394.37 572.28L394.37 581.75L394.55 582.26L394.92 582.52L395.29 582.60L395.66 582.52L396.03 582.26L396.21 581.75L396.21 575.33L398.15 573.55L399.08 573.13L401.11 573.13L401.94 573.55L402.50 574.99L402.50 581.75L402.59 582.09L403.05 582.52L403.42 582.60L403.98 582.43L404.35 581.75L404.35 574.99L403.42 572.45L401.57 571.52L398.99 571.44L396.95 572.28L396.31 572.87L396.12 571.94L395.84 571.61L395.29 571.44ZM384.94 571.44L382.91 572.28L381.24 573.80L380.41 575.92L380.32 577.69L381.24 580.23L382.91 581.75L384.94 582.60L387.16 582.60L389.19 581.75L390.85 580.23L391.04 579.72L390.85 579.22L390.48 578.96L390.12 578.88L389.75 578.96L387.99 580.49L387.07 580.91L385.03 580.91L384.11 580.49L382.72 579.22L382.17 577.69L382.17 577.27L382.26 577.19L390.12 577.19L390.48 577.10L390.85 576.85L391.04 576.34L391.04 574.99L390.12 573.13L389.19 572.28L387.16 571.44ZM382.54 575.33L382.72 574.82L384.11 573.55L385.03 573.13L387.07 573.13L387.99 573.55L388.73 574.23L389.19 575.07L389.10 575.50L382.63 575.50ZM358.51 571.61L358.14 572.28L358.14 581.75L358.33 582.26L358.70 582.52L359.06 582.60L359.43 582.52L359.80 582.26L359.99 581.75L359.99 575.33L361.93 573.55L362.85 573.13L364.89 573.13L365.72 573.55L366.27 574.99L366.27 581.75L366.37 582.09L366.83 582.52L367.20 582.60L367.75 582.43L368.12 581.75L368.12 574.99L367.20 572.45L365.35 571.52L362.76 571.44L360.73 572.28L360.08 572.87L359.90 571.94L359.62 571.61L359.06 571.44ZM353.15 571.44L352.60 571.61L352.23 572.28L352.23 581.75L352.41 582.26L353.15 582.60L353.70 582.43L354.07 581.75L354.07 572.28L353.89 571.77ZM316.93 571.44L314.89 572.28L313.23 573.80L312.40 575.92L312.30 577.69L313.23 580.23L314.89 581.75L316.93 582.60L319.14 582.60L321.18 581.75L322.84 580.23L323.02 579.72L322.84 579.22L322.47 578.96L322.10 578.88L321.73 578.96L319.97 580.49L319.05 580.91L317.02 580.91L316.09 580.49L314.71 579.22L314.15 577.69L314.15 577.27L314.25 577.19L322.10 577.19L322.47 577.10L322.84 576.85L323.02 576.34L323.02 574.99L322.10 573.13L321.18 572.28L319.14 571.44ZM314.52 575.33L314.71 574.82L316.09 573.55L317.02 573.13L319.05 573.13L319.97 573.55L320.71 574.23L321.18 575.07L321.08 575.50L314.61 575.50ZM300.11 571.61L299.74 572.28L299.92 572.79L300.29 573.04L300.66 573.13L306.76 573.13L306.85 573.21L300.11 580.99L299.74 581.75L299.92 582.26L300.66 582.60L308.79 582.60L309.35 582.43L309.72 581.75L309.53 581.25L309.16 580.99L308.79 580.91L302.69 580.91L302.60 580.82L309.35 573.04L309.72 572.28L309.53 571.77L308.79 571.44L300.66 571.44ZM295.49 571.44L294.93 571.61L294.56 572.28L294.56 581.75L294.75 582.26L295.49 582.60L296.04 582.43L296.41 581.75L296.41 572.28L296.22 571.77ZM276.45 572.28L274.79 573.80L273.86 576.34L273.95 578.12L274.79 580.23L276.45 581.75L278.11 582.52L280.70 582.60L282.64 581.75L282.83 581.84L282.92 582.26L283.29 582.52L283.66 582.60L284.21 582.43L284.58 581.75L284.58 572.28L284.40 571.77L284.03 571.52L283.66 571.44L283.29 571.52L282.92 571.77L282.83 572.20L282.64 572.28L280.70 571.44L278.48 571.44ZM278.57 573.13L280.61 573.13L281.53 573.55L282.73 574.65L282.73 579.39L281.53 580.49L280.61 580.91L278.57 580.91L277.65 580.49L276.26 579.22L275.71 577.69L275.71 576.34L276.26 574.82L277.65 573.55ZM252.61 571.77L252.42 572.28L252.42 581.75L252.79 582.43L253.35 582.60L253.72 582.52L254.09 582.26L254.27 581.75L254.27 575.33L256.21 573.55L257.13 573.13L259.17 573.13L259.91 573.47L260.09 573.72L260.55 574.99L260.55 581.75L260.74 582.26L261.48 582.60L262.03 582.43L262.40 581.75L262.40 575.33L264.34 573.55L265.27 573.13L267.30 573.13L268.04 573.47L268.69 574.99L268.69 581.75L268.87 582.26L269.24 582.52L269.61 582.60L270.35 582.26L270.53 581.75L270.53 574.99L269.80 572.79L269.43 572.28L267.39 571.44L265.17 571.44L263.14 572.28L261.94 573.38L261.29 572.28L259.26 571.44L256.67 571.52L255.01 572.28L254.36 572.87L254.18 571.94L253.90 571.61L253.35 571.44ZM250.20 571.61L249.65 571.44L247.06 571.52L245.40 572.28L244.75 572.87L244.57 571.94L244.29 571.61L243.74 571.44L243.00 571.77L242.81 572.28L242.81 581.75L243.18 582.43L243.74 582.60L244.10 582.52L244.47 582.26L244.66 581.75L244.66 576.34L245.21 574.82L246.60 573.55L247.52 573.13L249.65 573.13L250.20 572.96L250.57 572.28ZM232.65 571.44L230.61 572.28L228.95 573.80L228.12 575.92L228.03 577.69L228.95 580.23L230.61 581.75L232.65 582.60L234.86 582.60L236.90 581.75L238.56 580.23L239.39 578.12L239.48 576.34L238.56 573.80L236.90 572.28L234.86 571.44ZM232.74 573.13L234.77 573.13L235.70 573.55L237.08 574.82L237.64 576.34L237.64 577.69L237.08 579.22L235.70 580.49L234.77 580.91L232.74 580.91L231.81 580.49L230.43 579.22L229.87 577.69L229.87 576.34L230.43 574.82L231.81 573.55ZM428.56 566.70L428.00 566.87L427.63 567.55L427.63 571.35L425.97 571.52L425.60 571.77L425.42 572.28L425.60 572.79L425.97 573.04L427.63 573.21L427.63 579.05L428.56 581.59L430.41 582.52L432.25 582.60L432.99 582.26L433.18 581.75L432.99 581.25L432.62 580.99L430.87 580.91L430.13 580.57L429.48 579.05L429.48 573.21L429.57 573.13L431.89 573.04L432.25 572.79L432.44 572.28L432.25 571.77L431.89 571.52L429.57 571.44L429.48 571.35L429.48 567.55L429.30 567.04ZM373.85 566.70L373.30 566.87L372.93 567.55L372.93 571.35L371.26 571.52L370.89 571.77L370.71 572.28L370.89 572.79L371.26 573.04L372.93 573.21L372.93 579.05L373.85 581.59L375.70 582.52L377.55 582.60L378.29 582.26L378.47 581.75L378.29 581.25L377.92 580.99L376.16 580.91L375.42 580.57L374.77 579.05L374.77 573.21L374.87 573.13L377.18 573.04L377.55 572.79L377.73 572.28L377.55 571.77L377.18 571.52L374.87 571.44L374.77 571.35L374.77 567.55L374.59 567.04ZM335.78 566.78L335.41 566.70L334.85 566.87L334.48 567.55L334.48 572.20L334.39 572.28L332.45 571.44L329.86 571.52L328.20 572.28L326.54 573.80L325.61 576.34L325.61 577.69L326.54 580.23L328.20 581.75L329.86 582.52L332.45 582.60L334.39 581.75L334.58 581.84L334.58 582.09L334.85 582.43L335.41 582.60L335.96 582.43L336.24 582.09L336.33 581.75L336.33 567.55L336.15 567.04ZM330.32 573.13L332.36 573.13L333.28 573.55L334.48 574.65L334.48 579.39L333.28 580.49L332.36 580.91L330.32 580.91L329.40 580.49L328.01 579.22L327.46 577.69L327.46 576.34L328.01 574.82L329.40 573.55ZM289.57 566.70L289.02 566.87L288.65 567.55L288.65 581.75L288.83 582.26L289.57 582.60L290.13 582.43L290.50 581.75L290.50 567.55L290.31 567.04ZM212.87 566.87L212.50 567.55L212.50 581.75L212.68 582.26L213.05 582.52L213.42 582.60L213.79 582.52L214.16 582.26L214.35 581.75L214.35 570.59L214.44 570.51L222.85 582.09L223.40 582.52L223.77 582.60L224.33 582.43L224.70 581.75L224.70 567.55L224.51 567.04L224.14 566.78L223.77 566.70L223.40 566.78L223.03 567.04L222.85 567.55L222.85 578.71L222.76 578.79L214.35 567.21L213.79 566.78L213.42 566.70ZM421.90 566.02L421.35 566.19L420.43 567.04L420.24 567.55L420.43 568.05L421.35 568.90L421.90 569.07L422.46 568.90L423.38 568.05L423.57 567.55L423.38 567.04L422.46 566.19ZM353.15 566.02L352.60 566.19L351.67 567.04L351.49 567.55L351.67 568.05L352.60 568.90L353.15 569.07L353.70 568.90L354.63 568.05L354.81 567.55L354.63 567.04L353.70 566.19ZM295.49 566.02L294.93 566.19L294.01 567.04L293.82 567.55L294.01 568.05L294.93 568.90L295.49 569.07L296.04 568.90L296.96 568.05L297.15 567.55L296.96 567.04L296.04 566.19ZM26.31 163.91L27.03 164.29L37.10 164.29L37.64 164.10L37.91 163.73L38.00 163.35L37.91 162.98L37.64 162.60L37.10 162.42L30.27 162.42L28.38 160.46L27.93 159.52L27.93 157.46L28.38 156.62L29.91 156.06L37.10 156.06L37.46 155.97L37.91 155.50L38.00 155.13L37.82 154.57L37.10 154.19L29.91 154.19L27.21 155.13L26.22 157.00L26.13 159.61L27.03 161.67L27.66 162.32L26.67 162.51L26.31 162.79L26.13 163.35ZM26.13 174.57L27.03 176.62L28.65 178.31L30.90 179.15L32.79 179.24L35.48 178.31L37.10 176.62L38.00 174.57L38.00 172.32L37.10 170.27L35.48 168.59L33.24 167.74L31.35 167.65L28.65 168.59L27.03 170.27L26.13 172.32ZM27.93 174.47L27.93 172.42L28.38 171.48L29.73 170.08L31.35 169.52L32.79 169.52L34.40 170.08L35.75 171.48L36.20 172.42L36.20 174.47L35.75 175.41L34.40 176.81L32.79 177.37L31.35 177.37L29.73 176.81L28.38 175.41ZM26.13 183.54L26.31 184.10L27.03 184.47L37.10 184.47L37.64 184.29L38.00 183.54L37.82 182.98L37.10 182.60L27.03 182.60L26.49 182.79ZM26.13 202.98L27.03 205.03L28.65 206.72L30.90 207.56L32.79 207.65L35.48 206.72L37.10 205.03L38.00 202.98L38.00 200.74L37.10 198.68L35.48 197.00L34.94 196.81L34.40 197.00L34.13 197.37L34.04 197.74L34.13 198.12L35.75 199.89L36.20 200.83L36.20 202.89L35.75 203.82L34.40 205.22L32.79 205.78L31.35 205.78L29.73 205.22L28.38 203.82L27.93 202.89L27.93 200.83L28.38 199.89L29.91 198.31L30.09 197.74L29.91 197.18L29.19 196.81L28.65 197.00L27.03 198.68L26.13 200.74ZM26.31 220.74L27.03 221.11L37.10 221.11L37.64 220.92L37.91 220.55L38.00 220.17L37.91 219.80L37.64 219.43L37.10 219.24L30.27 219.24L28.38 217.28L27.93 216.34L27.93 214.29L28.38 213.45L29.91 212.89L37.10 212.89L37.46 212.79L37.91 212.32L38.00 211.95L37.82 211.39L37.10 211.02L29.91 211.02L27.21 211.95L26.22 213.82L26.13 216.44L27.03 218.49L27.66 219.15L26.67 219.33L26.31 219.61L26.13 220.17ZM26.31 234.94L27.03 235.31L34.22 235.31L36.92 234.38L37.91 232.51L38.00 229.89L37.10 227.84L36.47 227.18L37.46 227.00L37.82 226.72L38.00 226.16L37.82 225.60L37.10 225.22L27.03 225.22L26.49 225.41L26.22 225.78L26.13 226.16L26.22 226.53L26.49 226.90L27.03 227.09L33.86 227.09L35.75 229.05L36.20 229.99L36.20 232.04L35.75 232.89L34.22 233.45L27.03 233.45L26.67 233.54L26.22 234.01L26.13 234.38ZM26.13 265.78L27.03 267.84L28.65 269.52L30.90 270.36L32.79 270.46L35.48 269.52L37.10 267.84L38.00 265.78L38.00 263.54L37.10 261.48L35.48 259.80L34.94 259.61L34.40 259.80L34.13 260.17L34.04 260.55L34.13 260.92L35.75 262.70L36.20 263.63L36.20 265.69L35.75 266.62L34.40 268.03L32.79 268.59L32.34 268.59L32.25 268.49L32.25 260.55L32.16 260.17L31.89 259.80L31.35 259.61L29.91 259.61L27.93 260.55L27.03 261.48L26.13 263.54ZM30.27 268.21L29.73 268.03L28.38 266.62L27.93 265.69L27.93 263.63L28.38 262.70L29.10 261.95L30.00 261.48L30.45 261.58L30.45 268.12ZM26.22 282.60L26.67 283.07L27.03 283.17L27.48 283.07L37.37 278.68L37.91 278.12L38.00 277.74L37.91 277.37L37.37 276.81L27.93 272.60L27.03 272.32L26.67 272.42L26.31 272.70L26.13 273.26L26.31 273.82L26.76 274.19L34.76 277.74L26.76 281.30L26.22 281.86L26.13 282.23ZM26.13 286.72L26.31 287.28L27.03 287.65L37.10 287.65L37.64 287.46L38.00 286.72L37.82 286.16L37.10 285.78L27.03 285.78L26.49 285.97ZM27.03 308.96L28.65 310.64L31.35 311.58L33.24 311.48L35.48 310.64L37.10 308.96L37.91 307.28L38.00 304.66L37.10 302.70L37.19 302.51L37.64 302.42L37.91 302.04L38.00 301.67L37.82 301.11L37.10 300.74L27.03 300.74L26.49 300.92L26.22 301.30L26.13 301.67L26.22 302.04L26.49 302.42L26.94 302.51L27.03 302.70L26.13 304.66L26.13 306.90ZM27.93 306.81L27.93 304.75L28.38 303.82L29.55 302.60L34.58 302.60L35.75 303.82L36.20 304.75L36.20 306.81L35.75 307.74L34.40 309.15L32.79 309.71L31.35 309.71L29.73 309.15L28.38 307.74ZM26.31 330.64L27.03 331.02L34.22 331.02L36.92 330.08L37.91 328.21L38.00 325.60L37.10 323.54L36.47 322.89L37.46 322.70L37.82 322.42L38.00 321.86L37.82 321.30L37.10 320.92L27.03 320.92L26.49 321.11L26.22 321.48L26.13 321.86L26.22 322.23L26.49 322.60L27.03 322.79L33.86 322.79L35.75 324.75L36.20 325.69L36.20 327.74L35.75 328.59L34.22 329.15L27.03 329.15L26.67 329.24L26.22 329.71L26.13 330.08ZM26.49 353.26L27.03 353.45L37.10 353.45L37.82 353.07L38.00 352.51L37.91 352.14L37.64 351.76L37.10 351.58L30.27 351.58L28.38 349.61L27.93 348.68L27.93 346.62L28.29 345.88L28.56 345.69L29.91 345.22L37.10 345.22L37.64 345.03L38.00 344.29L37.82 343.73L37.10 343.35L30.27 343.35L28.38 341.39L27.93 340.46L27.93 338.40L28.29 337.65L29.91 337.00L37.10 337.00L37.64 336.81L37.91 336.44L38.00 336.06L37.64 335.31L37.10 335.13L29.91 335.13L27.57 335.88L27.03 336.25L26.13 338.31L26.13 340.55L27.03 342.60L28.20 343.82L27.03 344.47L26.13 346.53L26.22 349.15L27.03 350.83L27.66 351.48L26.67 351.67L26.31 351.95L26.13 352.51ZM26.31 367.28L27.03 367.65L34.22 367.65L36.92 366.72L37.91 364.85L38.00 362.23L37.10 360.17L36.47 359.52L37.46 359.33L37.82 359.05L38.00 358.49L37.82 357.93L37.10 357.56L27.03 357.56L26.49 357.74L26.22 358.12L26.13 358.49L26.22 358.87L26.49 359.24L27.03 359.43L33.86 359.43L35.75 361.39L36.20 362.32L36.20 364.38L35.75 365.22L34.22 365.78L27.03 365.78L26.67 365.88L26.22 366.34L26.13 366.72ZM21.10 191.76L21.28 192.32L22.00 192.70L26.04 192.70L26.22 194.38L26.49 194.75L27.03 194.94L27.57 194.75L27.84 194.38L28.02 192.70L34.22 192.70L36.92 191.76L37.91 189.89L38.00 188.03L37.64 187.28L37.10 187.09L36.56 187.28L36.29 187.65L36.20 189.43L35.84 190.17L34.22 190.83L28.02 190.83L27.93 190.74L27.84 188.40L27.57 188.03L27.03 187.84L26.49 188.03L26.22 188.40L26.13 190.74L26.04 190.83L22.00 190.83L21.46 191.02ZM21.10 238.87L21.19 240.74L22.00 242.42L22.54 242.79L24.43 243.45L26.04 243.54L26.22 245.22L26.49 245.60L27.03 245.78L27.57 245.60L27.84 245.22L28.02 243.54L37.10 243.54L37.64 243.35L38.00 242.60L37.82 242.04L37.10 241.67L28.02 241.67L27.93 241.58L27.84 239.24L27.57 238.87L27.03 238.68L26.49 238.87L26.22 239.24L26.13 241.58L26.04 241.67L24.88 241.67L23.26 241.02L22.90 240.27L22.81 238.49L22.54 238.12L22.00 237.93L21.64 238.03L21.28 238.31ZM21.10 294.94L21.28 295.50L22.00 295.88L26.04 295.88L26.22 297.56L26.49 297.93L27.03 298.12L27.57 297.93L27.84 297.56L28.02 295.88L34.22 295.88L36.92 294.94L37.91 293.07L38.00 291.20L37.64 290.46L37.10 290.27L36.56 290.46L36.29 290.83L36.20 292.60L35.84 293.35L34.22 294.01L28.02 294.01L27.93 293.91L27.84 291.58L27.57 291.20L27.03 291.02L26.49 291.20L26.22 291.58L26.13 293.91L26.04 294.01L22.00 294.01L21.46 294.19ZM21.10 315.88L21.28 316.44L22.00 316.81L37.10 316.81L37.64 316.62L38.00 315.88L37.82 315.31L37.10 314.94L22.00 314.94L21.46 315.13ZM21.10 378.68L22.00 380.74L23.62 382.42L25.41 383.35L27.30 384.01L31.35 384.10L33.69 383.35L35.48 382.42L37.10 380.74L38.00 378.68L38.00 375.69L37.10 373.63L35.48 371.95L33.86 371.11L33.51 371.02L33.15 371.11L32.70 371.58L32.61 371.95L32.79 372.51L34.31 373.35L35.75 374.85L36.20 375.78L36.20 378.59L35.75 379.52L34.31 381.02L33.24 381.58L31.35 382.23L27.75 382.23L25.86 381.58L24.79 381.02L23.35 379.52L22.90 378.59L22.90 375.78L23.35 374.85L24.79 373.35L26.13 372.70L26.40 372.32L26.49 371.95L26.31 371.39L25.59 371.02L23.62 371.95L22.00 373.63L21.10 375.69ZM20.38 183.54L20.56 184.10L21.46 185.03L22.00 185.22L22.54 185.03L23.44 184.10L23.62 183.54L23.44 182.98L22.54 182.04L22.00 181.86L21.46 182.04L20.56 182.98ZM20.38 286.72L20.56 287.28L21.46 288.21L22.00 288.40L22.54 288.21L23.44 287.28L23.62 286.72L23.44 286.16L22.54 285.22L22.00 285.03L21.46 285.22L20.56 286.16Z" fill="#000" fill-rule="evenodd"/>
<path d="M249.16 34.49L248.10 34.99L246.99 36.06L246.49 37.40L246.55 37.46L246.49 37.57L246.55 38.58L246.49 38.63L246.99 39.98L248.10 41.04L249.16 41.54L249.47 41.60L251.27 41.54L252.32 41.04L253.31 40.14L253.44 39.81L253.31 39.53L252.94 39.36L252.57 39.47L251.58 40.37L250.83 40.70L249.59 40.70L248.85 40.37L247.92 39.53L247.48 38.41L247.48 37.63L247.85 36.62L248.85 35.67L249.59 35.33L250.83 35.33L251.58 35.67L252.57 36.56L252.94 36.67L253.25 36.56L253.44 36.23L253.31 35.89L252.32 34.99L251.27 34.49L250.96 34.43ZM243.51 34.43L243.20 34.55L243.02 34.88L243.02 41.15L243.14 41.43L243.51 41.60L243.82 41.49L244.01 41.15L244.01 34.88L243.88 34.60ZM228.75 34.99L227.63 36.06L227.13 37.40L227.20 37.46L227.13 37.57L227.20 38.58L227.13 38.63L227.76 40.14L228.75 41.04L229.80 41.54L231.60 41.60L231.91 41.54L233.03 40.98L233.28 41.49L233.59 41.60L233.90 41.49L234.08 41.15L234.08 34.88L233.96 34.60L233.59 34.43L233.28 34.55L233.03 35.05L231.91 34.49L230.11 34.43L229.80 34.49ZM230.24 35.33L231.48 35.33L232.22 35.67L233.09 36.45L233.09 39.58L232.22 40.37L231.48 40.70L230.24 40.70L229.49 40.37L228.56 39.53L228.13 38.41L228.13 37.63L228.56 36.51L229.49 35.67ZM212.87 34.60L212.74 34.88L212.74 41.15L212.93 41.49L213.24 41.60L213.61 41.43L213.74 41.15L213.74 36.90L215.10 35.67L215.84 35.33L217.09 35.33L217.83 35.72L218.20 36.73L218.20 41.15L218.33 41.43L218.70 41.60L219.01 41.49L219.19 41.15L219.19 36.90L220.56 35.67L221.30 35.33L222.54 35.33L223.16 35.61L223.29 35.72L223.66 36.73L223.66 41.15L223.78 41.43L224.16 41.60L224.53 41.43L224.65 41.15L224.65 36.67L224.59 36.62L224.65 36.51L224.16 35.16L223.85 34.88L222.98 34.49L222.67 34.43L220.87 34.49L219.81 34.99L218.95 35.78L218.70 35.16L218.39 34.88L217.52 34.49L217.21 34.43L215.41 34.49L214.36 34.99L213.80 35.50L213.74 35.44L213.74 34.88L213.61 34.60L213.24 34.43ZM205.48 34.49L204.43 34.99L203.31 36.06L202.82 37.40L202.88 37.46L202.82 37.57L202.88 38.58L202.82 38.63L203.31 39.98L204.43 41.04L205.48 41.54L205.79 41.60L207.59 41.54L208.65 41.04L209.76 39.98L210.26 38.63L210.20 38.58L210.26 38.47L210.20 37.46L210.26 37.40L209.76 36.06L208.65 34.99L207.59 34.49L207.28 34.43ZM205.92 35.33L207.16 35.33L207.90 35.67L208.83 36.51L209.27 37.63L209.27 38.41L208.83 39.53L207.90 40.37L207.16 40.70L205.92 40.70L205.17 40.37L204.24 39.53L203.81 38.41L203.81 37.63L204.24 36.51L205.17 35.67ZM201.64 34.55L201.33 34.43L199.53 34.49L198.47 34.99L197.92 35.50L197.85 35.44L197.85 34.88L197.73 34.60L197.36 34.43L196.99 34.60L196.86 34.88L196.86 41.15L197.05 41.49L197.36 41.60L197.73 41.43L197.85 41.15L197.85 37.63L198.29 36.51L199.22 35.67L199.96 35.33L201.33 35.33L201.64 35.22L201.82 34.88ZM180.67 34.49L179.62 34.99L178.50 36.06L178.00 37.40L178.06 37.46L178.00 37.57L178.06 38.58L178.00 38.63L178.50 39.98L179.62 41.04L180.67 41.54L180.98 41.60L182.78 41.54L183.83 41.04L184.83 40.14L184.95 39.81L184.83 39.53L184.45 39.36L184.08 39.47L183.09 40.37L182.35 40.70L181.10 40.70L180.36 40.37L179.43 39.53L179.00 38.41L179.00 37.63L179.37 36.62L180.36 35.67L181.10 35.33L182.35 35.33L183.09 35.67L184.08 36.56L184.45 36.67L184.76 36.56L184.95 36.23L184.83 35.89L183.83 34.99L182.78 34.49L182.47 34.43ZM171.24 34.49L170.19 34.99L169.07 36.06L168.57 37.40L168.64 37.46L168.57 37.57L168.64 38.58L168.57 38.63L169.07 39.98L170.19 41.04L171.24 41.54L171.55 41.60L173.35 41.54L174.40 41.04L175.52 39.98L176.02 38.63L175.96 38.58L176.02 38.47L175.96 37.46L176.02 37.40L175.52 36.06L174.40 34.99L173.35 34.49L173.04 34.43ZM171.68 35.33L172.92 35.33L173.66 35.67L174.59 36.51L175.03 37.63L175.03 38.41L174.59 39.53L173.66 40.37L172.92 40.70L171.68 40.70L170.93 40.37L170.00 39.53L169.57 38.41L169.57 37.63L170.00 36.51L170.93 35.67ZM159.83 34.55L159.64 34.88L159.64 41.15L159.76 41.43L160.14 41.60L160.51 41.43L160.63 41.15L160.63 36.90L162.00 35.67L162.74 35.33L163.98 35.33L164.73 35.72L165.10 36.73L165.10 41.15L165.22 41.43L165.60 41.60L165.91 41.49L166.09 41.15L166.09 36.67L166.03 36.62L166.09 36.51L165.60 35.16L165.29 34.88L164.42 34.49L162.62 34.43L162.31 34.49L161.44 34.88L160.69 35.50L160.63 35.44L160.63 34.88L160.51 34.60L160.14 34.43ZM152.38 34.49L151.33 34.99L150.21 36.06L149.71 37.40L149.78 37.46L149.71 37.57L149.78 38.58L149.71 38.63L150.21 39.98L151.33 41.04L152.38 41.54L152.69 41.60L154.49 41.54L155.55 41.04L156.66 39.98L157.16 38.63L157.10 38.58L157.16 38.47L157.10 37.46L157.16 37.40L156.66 36.06L155.55 34.99L154.49 34.49L154.18 34.43ZM152.82 35.33L154.06 35.33L154.80 35.67L155.73 36.51L156.17 37.63L156.17 38.41L155.73 39.53L154.80 40.37L154.06 40.70L152.82 40.70L152.07 40.37L151.14 39.53L150.71 38.41L150.71 37.63L151.14 36.51L152.07 35.67ZM238.05 31.30L237.74 31.41L237.56 31.75L237.56 34.38L236.38 34.49L236.19 34.60L236.07 34.88L236.19 35.16L236.38 35.27L237.56 35.39L237.56 39.36L237.62 39.42L237.56 39.53L238.05 40.87L238.36 41.15L239.23 41.54L240.53 41.60L240.84 41.49L241.03 41.15L240.91 40.87L240.53 40.70L239.67 40.70L239.05 40.42L238.92 40.31L238.55 39.30L238.55 35.39L238.61 35.33L240.04 35.33L240.35 35.22L240.53 34.88L240.41 34.60L240.04 34.43L238.61 34.43L238.55 34.38L238.55 31.75L238.43 31.47ZM187.62 31.41L187.43 31.75L187.43 41.15L187.56 41.43L187.93 41.60L188.30 41.43L188.42 41.15L188.42 36.90L189.79 35.67L190.53 35.33L191.77 35.33L192.52 35.72L192.89 36.73L192.89 41.15L193.02 41.43L193.39 41.60L193.70 41.49L193.88 41.15L193.88 36.67L193.82 36.62L193.88 36.51L193.39 35.16L193.08 34.88L192.21 34.49L190.41 34.43L190.10 34.49L189.23 34.88L188.49 35.50L188.42 35.44L188.42 31.75L188.30 31.47L187.93 31.30ZM138.49 31.41L138.30 31.75L138.30 41.15L138.42 41.43L138.80 41.60L139.17 41.43L139.29 41.15L139.29 34.43L139.35 34.38L139.54 34.71L142.21 41.15L142.46 41.49L142.77 41.60L143.08 41.49L143.32 41.15L146.18 34.38L146.24 34.43L146.24 41.15L146.36 41.43L146.74 41.60L147.05 41.49L147.23 41.15L147.23 31.75L147.11 31.47L146.74 31.30L146.43 31.41L146.18 31.75L142.77 39.86L139.35 31.75L139.17 31.47L138.80 31.30ZM243.51 30.85L243.14 30.96L242.64 31.41L242.52 31.75L242.64 32.08L243.14 32.53L243.51 32.64L243.88 32.53L244.38 32.08L244.50 31.75L244.38 31.41L243.88 30.96ZM490.34 34.40L490.21 34.69L490.21 41.14L490.40 41.48L490.72 41.60L491.10 41.43L491.22 41.14L491.22 36.76L492.61 35.49L493.37 35.15L494.63 35.15L495.39 35.55L495.77 36.59L495.77 41.14L495.90 41.43L496.27 41.60L496.59 41.48L496.78 41.14L496.78 36.76L498.17 35.49L498.93 35.15L500.19 35.15L500.82 35.44L500.95 35.55L501.33 36.59L501.33 41.14L501.45 41.43L501.83 41.60L502.21 41.43L502.34 41.14L502.34 36.53L502.27 36.47L502.34 36.36L501.83 34.98L501.52 34.69L500.63 34.28L500.32 34.23L498.48 34.28L497.41 34.80L496.53 35.61L496.27 34.98L495.96 34.69L495.07 34.28L494.76 34.23L492.93 34.28L491.85 34.80L491.29 35.32L491.22 35.26L491.22 34.69L491.10 34.40L490.72 34.23ZM480.80 34.34L480.61 34.69L480.61 41.14L480.74 41.43L481.12 41.60L481.50 41.43L481.62 41.14L481.62 36.76L483.01 35.49L483.77 35.15L485.03 35.15L485.79 35.55L486.17 36.59L486.17 41.14L486.30 41.43L486.68 41.60L486.99 41.48L487.18 41.14L487.18 36.53L487.12 36.47L487.18 36.36L486.68 34.98L486.36 34.69L485.48 34.28L483.64 34.23L483.33 34.28L482.44 34.69L481.69 35.32L481.62 35.26L481.62 34.69L481.50 34.40L481.12 34.23ZM473.35 31.00L471.84 31.46L471.58 31.69L470.51 33.19L470.00 35.44L470.07 35.55L470.00 35.61L470.00 36.99L470.07 37.05L470.00 37.16L470.51 39.41L471.58 40.91L471.84 41.14L473.35 41.60L473.41 41.54L473.54 41.60L474.68 41.54L474.74 41.60L476.26 41.14L476.51 40.91L477.58 39.41L478.09 37.16L478.02 37.05L478.09 36.99L478.09 35.61L478.02 35.55L478.09 35.44L477.58 33.19L476.51 31.69L476.26 31.46L474.74 31.00L474.68 31.06L474.55 31.00L473.41 31.06ZM473.60 31.92L474.49 31.92L475.62 32.27L475.88 32.44L476.63 33.53L477.08 35.55L477.08 37.05L476.63 39.07L475.75 40.27L474.49 40.68L473.60 40.68L472.47 40.33L472.21 40.16L471.46 39.07L471.01 37.05L471.01 35.55L471.46 33.53L472.34 32.33ZM462.74 31.00L461.23 31.46L460.91 31.75L460.47 32.56L460.41 32.84L460.47 34.05L460.91 34.86L461.23 35.15L461.98 35.49L461.73 35.61L461.67 35.72L461.54 35.72L460.53 36.65L459.96 37.62L459.90 37.91L459.96 39.58L460.53 40.56L461.23 41.14L462.74 41.60L462.80 41.54L462.93 41.60L464.95 41.60L465.08 41.54L465.14 41.60L466.85 41.02L467.35 40.56L467.92 39.58L467.98 39.30L467.92 37.62L467.35 36.65L466.34 35.72L466.22 35.72L466.15 35.61L465.90 35.49L466.66 35.15L466.97 34.86L467.41 34.05L467.48 33.77L467.41 32.56L466.97 31.75L466.66 31.46L465.14 31.00L465.08 31.06L464.95 31.00L462.93 31.00L462.80 31.06ZM462.24 36.47L463.94 35.95L465.65 36.47L466.59 37.34L466.97 38.03L466.97 39.18L466.59 39.87L466.15 40.27L464.89 40.68L462.99 40.68L461.73 40.27L461.29 39.87L460.91 39.18L460.91 38.03L461.29 37.34ZM461.42 32.96L461.86 32.27L462.99 31.92L464.89 31.92L466.03 32.27L466.15 32.38L466.47 32.96L466.47 33.65L466.15 34.23L465.96 34.40L465.20 34.74L463.94 35.03L462.68 34.74L461.92 34.40L461.73 34.23L461.42 33.65ZM265.70 55.40L264.15 55.90L263.76 56.27L262.85 57.58L262.65 58.08L262.20 60.26L262.26 60.39L262.20 60.45L262.20 61.95L262.26 62.01L262.20 62.14L262.72 64.57L263.76 66.13L264.15 66.50L265.70 67.00L265.77 66.94L265.90 67.00L267.07 66.94L267.13 67.00L268.69 66.50L269.08 66.13L269.99 64.82L270.18 64.32L270.64 62.14L270.57 62.01L270.64 61.95L270.64 60.45L270.57 60.39L270.64 60.26L270.12 57.83L269.08 56.27L268.69 55.90L267.13 55.40L267.07 55.46L266.94 55.40L265.77 55.46ZM265.96 56.52L266.87 56.52L268.04 56.90L268.30 57.15L269.01 58.21L269.47 60.39L269.47 62.01L269.01 64.19L268.30 65.25L268.04 65.50L266.87 65.88L265.96 65.88L264.80 65.50L264.54 65.25L263.82 64.19L263.37 62.01L263.37 60.39L263.82 58.21L264.54 57.15L264.80 56.90ZM520.38 55.30L518.88 55.80L518.50 56.17L517.63 57.48L517.44 57.98L517.00 60.16L517.06 60.29L517.00 60.35L517.00 61.85L517.06 61.91L517.00 62.04L517.50 64.47L518.50 66.03L518.88 66.40L520.38 66.90L520.44 66.84L520.57 66.90L521.69 66.84L521.76 66.90L523.26 66.40L523.64 66.03L524.51 64.72L524.70 64.22L525.14 62.04L525.07 61.91L525.14 61.85L525.14 60.35L525.07 60.29L525.14 60.16L524.64 57.73L523.64 56.17L523.26 55.80L521.76 55.30L521.69 55.36L521.57 55.30L520.44 55.36ZM520.63 56.42L521.51 56.42L522.63 56.80L522.88 57.05L523.57 58.11L524.01 60.29L524.01 61.91L523.57 64.09L522.88 65.15L522.63 65.40L521.51 65.78L520.63 65.78L519.50 65.40L519.25 65.15L518.56 64.09L518.13 61.91L518.13 60.29L518.56 58.11L519.25 57.05L519.50 56.80ZM519.88 73.15L518.38 73.65L518.00 74.02L517.56 74.90L517.50 75.21L517.56 76.52L518.00 77.39L518.38 77.77L519.00 78.08L517.50 79.51L517.06 80.38L517.00 80.70L517.06 82.50L517.50 83.38L518.38 84.25L519.88 84.75L519.94 84.69L520.07 84.75L522.07 84.75L522.20 84.69L522.26 84.75L523.76 84.25L524.64 83.38L525.07 82.50L525.14 82.19L525.07 80.38L524.64 79.51L523.13 78.08L523.76 77.77L524.14 77.39L524.57 76.52L524.64 76.21L524.57 74.90L524.14 74.02L523.76 73.65L522.26 73.15L522.20 73.21L522.07 73.15L520.07 73.15L519.94 73.21ZM518.56 79.95L519.32 79.20L521.01 78.64L522.82 79.20L523.57 79.95L524.01 80.82L524.01 82.07L523.57 82.94L523.32 83.19L522.01 83.63L520.13 83.63L518.82 83.19L518.56 82.94L518.13 82.07L518.13 80.82ZM518.63 75.33L519.00 74.65L520.13 74.27L522.01 74.27L523.20 74.71L523.51 75.33L523.51 76.08L523.07 76.83L522.32 77.20L521.01 77.52L519.82 77.20L519.07 76.83L518.63 76.08ZM531.07 91.00L529.71 91.50L529.36 91.87L528.45 93.43L528.00 95.86L528.05 95.99L528.00 96.05L528.00 98.55L528.05 98.61L528.00 98.67L528.51 100.79L529.71 102.10L531.07 102.60L531.13 102.54L531.24 102.60L531.81 102.54L531.87 102.60L533.24 102.10L534.49 100.73L534.94 99.23L534.89 99.17L534.94 99.05L534.89 98.42L534.94 98.36L534.49 96.86L533.24 95.49L531.87 94.99L531.81 95.05L531.70 94.99L531.13 95.05L531.07 94.99L529.71 95.49L529.08 96.18L529.02 96.11L529.42 93.81L530.05 92.75L530.27 92.50L531.30 92.12L532.10 92.12L533.12 92.50L533.46 93.25L533.75 93.56L533.98 93.62L534.20 93.56L534.43 93.31L534.49 93.06L534.43 92.75L534.03 91.87L533.69 91.50L532.32 91.00L532.27 91.06L532.15 91.00L531.13 91.06ZM531.30 96.11L531.64 96.11L532.84 96.55L533.52 97.30L533.92 98.61L533.92 98.98L533.52 100.29L532.84 101.04L531.64 101.48L531.30 101.48L530.10 101.04L529.42 100.29L529.02 98.61L529.42 97.30L530.10 96.55ZM522.59 91.00L522.36 91.06L521.00 92.56L520.14 93.00L519.86 93.31L519.80 93.56L519.86 93.81L520.08 94.06L520.31 94.12L520.60 94.06L521.39 93.62L522.02 92.93L522.08 93.00L522.08 102.04L522.13 102.29L522.36 102.54L522.59 102.60L522.82 102.54L523.04 102.29L523.10 102.04L523.10 91.56L523.04 91.31L522.82 91.06Z" fill="#111" fill-rule="evenodd"/>
<path d="M440.40 34.80H449.10M440.40 38.00H449.10M242.90 60.40H251.50M242.90 63.60H251.50M497.50 60.40H506.30M497.50 63.60H506.30M497.50 78.25H506.30M497.50 81.45H506.30M497.50 96.10H506.30M497.50 99.30H506.30" fill="none" stroke="#111" stroke-width="1.15" stroke-linecap="round"/>
<path transform="translate(224.00 66.70)" d="M5.0 -7.5C6.3 -6.6 6.9 -4.9 6.4 -3.2C5.8 -1.3 4.4 -0.1 2.9 -0.2C1.2 -0.3 0.2 -1.6 0.5 -3.4C0.9 -5.4 2.3 -7.3 3.9 -7.7C4.4 -7.8 4.8 -7.7 5.0 -7.5C4.2 -8.6 3.5 -9.6 3.5 -10.6C3.6 -11.6 4.6 -11.8 5.5 -11.3C6.0 -11.0 6.4 -10.6 6.7 -10.2" fill="none" stroke="#111" stroke-width="1.4" stroke-linecap="round" stroke-linejoin="round"/>
<path transform="translate(478.90 66.70)" d="M5.0 -7.5C6.3 -6.6 6.9 -4.9 6.4 -3.2C5.8 -1.3 4.4 -0.1 2.9 -0.2C1.2 -0.3 0.2 -1.6 0.5 -3.4C0.9 -5.4 2.3 -7.3 3.9 -7.7C4.4 -7.8 4.8 -7.7 5.0 -7.5C4.2 -8.6 3.5 -9.6 3.5 -10.6C3.6 -11.6 4.6 -11.8 5.5 -11.3C6.0 -11.0 6.4 -10.6 6.7 -10.2" fill="none" stroke="#111" stroke-width="1.4" stroke-linecap="round" stroke-linejoin="round"/>
<path transform="translate(478.90 84.55)" d="M5.0 -7.5C6.3 -6.6 6.9 -4.9 6.4 -3.2C5.8 -1.3 4.4 -0.1 2.9 -0.2C1.2 -0.3 0.2 -1.6 0.5 -3.4C0.9 -5.4 2.3 -7.3 3.9 -7.7C4.4 -7.8 4.8 -7.7 5.0 -7.5C4.2 -8.6 3.5 -9.6 3.5 -10.6C3.6 -11.6 4.6 -11.8 5.5 -11.3C6.0 -11.0 6.4 -10.6 6.7 -10.2" fill="none" stroke="#111" stroke-width="1.4" stroke-linecap="round" stroke-linejoin="round"/>
<path transform="translate(478.90 102.40)" d="M5.0 -7.5C6.3 -6.6 6.9 -4.9 6.4 -3.2C5.8 -1.3 4.4 -0.1 2.9 -0.2C1.2 -0.3 0.2 -1.6 0.5 -3.4C0.9 -5.4 2.3 -7.3 3.9 -7.7C4.4 -7.8 4.8 -7.7 5.0 -7.5C4.2 -8.6 3.5 -9.6 3.5 -10.6C3.6 -11.6 4.6 -11.8 5.5 -11.3C6.0 -11.0 6.4 -10.6 6.7 -10.2" fill="none" stroke="#111" stroke-width="1.4" stroke-linecap="round" stroke-linejoin="round"/>
<path d="M415.8 31.0L411.8 41.0H420.1Z" fill="none" stroke="#111" stroke-width="1.15" stroke-linejoin="round"/>
<path d="M422.4 31.6C423.2 31.0 424.0 31.2 424.4 32.2L428.2 40.2C428.5 40.9 429.0 41.1 429.6 40.8M425.6 34.8L422.1 41.0" fill="none" stroke="#111" stroke-width="1.15" stroke-linecap="round" stroke-linejoin="round"/>
</svg>
</body></html>
